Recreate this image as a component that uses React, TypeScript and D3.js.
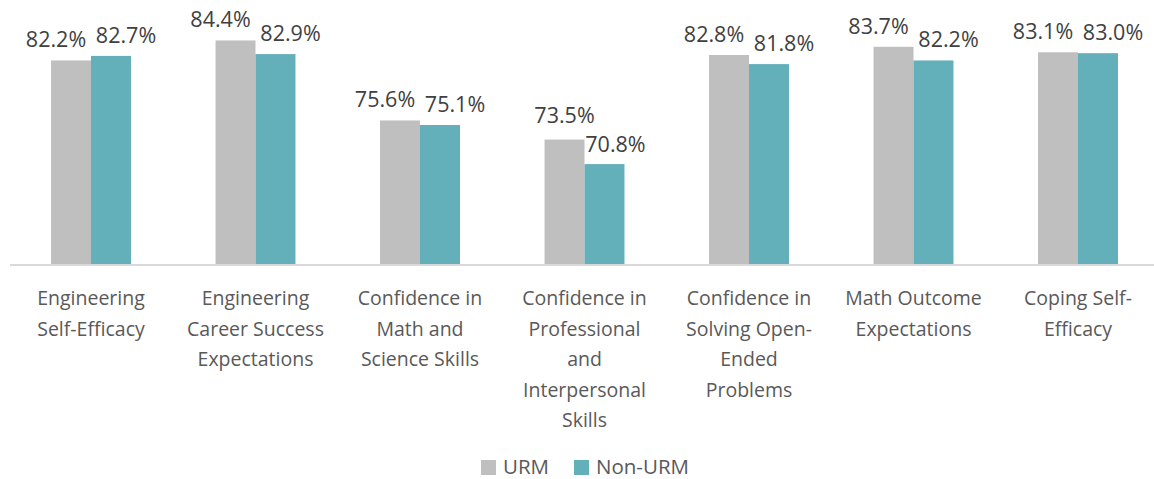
import { scaleBand, scaleLinear } from "d3";

const categories = [
  "Engineering Self-Efficacy",
  "Engineering Career Success Expectations",
  "Confidence in Math and Science Skills",
  "Confidence in Professional and Interpersonal Skills",
  "Confidence in Solving Open-Ended Problems",
  "Math Outcome Expectations",
  "Coping Self-Efficacy",
];

// wrapped tick labels, as the picture shows them
const tickLines = [
  ["Engineering", "Self-Efficacy"],
  ["Engineering", "Career Success", "Expectations"],
  ["Confidence in", "Math and", "Science Skills"],
  ["Confidence in", "Professional", "and", "Interpersonal", "Skills"],
  ["Confidence in", "Solving Open-", "Ended", "Problems"],
  ["Math Outcome", "Expectations"],
  ["Coping Self-", "Efficacy"],
];

const seriesNames = ["URM", "Non-URM"];
const urm = [82.2, 84.4, 75.6, 73.5, 82.8, 83.7, 83.1];
const nonUrm = [82.7, 82.9, 75.1, 70.8, 81.8, 82.2, 83.0];

const colors = ["#BFBFBF", "#63AFBA"];
const FONT = "'Open Sans', sans-serif";

export default function App() {
  const width = 1154;
  const height = 479;
  const baseline = 265;

  const x0 = scaleBand<string>()
    .domain(categories)
    .range([8.75, 1160.25])
    .paddingInner(0.514)
    .paddingOuter(0.257);
  const x1 = scaleBand<string>().domain(seriesNames).range([0, x0.bandwidth()]);
  const y = scaleLinear().domain([59.7, 85]).range([baseline, 35]);

  const values = [urm, nonUrm];

  // label placement: push apart when the two labels would collide
  const labelPos = categories.map((c, i) => {
    const cu = x0(c)! + x1("URM")! + x1.bandwidth() / 2;
    const cn = x0(c)! + x1("Non-URM")! + x1.bandwidth() / 2;
    const yu = y(urm[i]);
    const yn = y(nonUrm[i]);
    if (Math.abs(yu - yn) < 15) {
      const mid = (cu + cn) / 2;
      return [
        { x: mid - 35, y: yu - 13 },
        { x: mid + 35, y: yn - 13 },
      ];
    }
    return [
      { x: cu, y: yu - 17 },
      { x: cn + 11, y: yn - 12 },
    ];
  });

  return (
    <svg
      width={width}
      height={height}
      style={{ position: "absolute", left: 0, top: 0, background: "#fff" }}
      fontFamily={FONT}
    >
      {categories.map((c, i) => (
        <g key={c}>
          {seriesNames.map((s, j) => (
            <rect
              key={s}
              x={x0(c)! + x1(s)!}
              y={y(values[j][i])}
              width={x1.bandwidth()}
              height={baseline - y(values[j][i])}
              fill={colors[j]}
            />
          ))}
          {seriesNames.map((s, j) => (
            <text
              key={"l" + s}
              x={labelPos[i][j].x}
              y={labelPos[i][j].y}
              textAnchor="middle"
              fontSize={21.5}
              fill="#404040"
            >
              {values[j][i].toFixed(1)}%
            </text>
          ))}
          <text
            x={x0(c)! + x0.bandwidth() / 2}
            y={305}
            textAnchor="middle"
            fontSize={19.5}
            fill="#595959"
          >
            {tickLines[i].map((line, k) => (
              <tspan key={k} x={x0(c)! + x0.bandwidth() / 2} dy={k === 0 ? 0 : 30.5}>
                {line}
              </tspan>
            ))}
          </text>
        </g>
      ))}

      <line x1={10} x2={width} y1={baseline} y2={baseline} stroke="#D9D9D9" strokeWidth={2} />

      <g fontSize={20.5} fill="#595959">
        {seriesNames.map((s, j) => {
          const lx = j === 0 ? 481 : 574;
          return (
            <g key={s}>
              <rect x={lx} y={460} width={15} height={15} fill={colors[j]} />
              <text x={lx + 22} y={474}>
                {s}
              </text>
            </g>
          );
        })}
      </g>
    </svg>
  );
}
